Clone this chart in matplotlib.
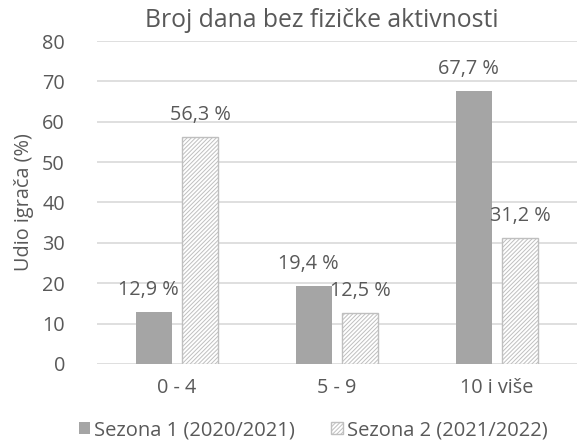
import numpy as np
import matplotlib
matplotlib.use('Agg')
from matplotlib import pyplot as plt

categories = ['0 - 4', '5 - 9', '10 i više']
sezona1 = [12.9, 19.4, 67.7]
sezona2 = [56.3, 12.5, 31.2]
labels1 = ['12,9 %', '19,4 %', '67,7 %']
labels2 = ['56,3 %', '12,5 %', '31,2 %']
series_names = ['Sezona 1 (2020/2021)', 'Sezona 2 (2021/2022)']
yticks = [0, 10, 20, 30, 40, 50, 60, 70, 80]

txt = '#595959'
plt.rcParams['font.family'] = ['Open Sans', 'DejaVu Sans']
plt.rcParams['hatch.color'] = '#BFBFBF'
plt.rcParams['hatch.linewidth'] = 0.7

fig = plt.figure(figsize=(5.77, 4.46), dpi=100)
ax = fig.add_axes([0.168, 0.184, 0.832, 0.724])

x = np.arange(len(categories))
w = 0.225
b1 = ax.bar(x - 0.145, sezona1, w, color='#A5A5A5', label=series_names[0])
b2 = ax.bar(x + 0.145, sezona2, w, color='white', edgecolor='#BFBFBF',
            hatch='////////', linewidth=1, label=series_names[1])

# oznake vrijednosti iznad stupaca
for xi, v, s in zip(x, sezona1, labels1):
    ax.text(xi - 0.18, v + 3, s, ha='center', va='bottom', fontsize=14.3, color=txt)
for xi, v, s in zip(x, sezona2, labels2):
    ax.text(xi + 0.145, v + 3, s, ha='center', va='bottom', fontsize=14.3, color=txt)

ax.set_xlim(-0.5, 2.5)
ax.set_ylim(0, 80)
ax.set_yticks(yticks)
ax.set_xticks(x)
ax.set_xticklabels(categories)
ax.tick_params(length=0, labelsize=14.3, labelcolor=txt, pad=10)
ax.tick_params(axis='y', pad=23)
ax.grid(axis='y', color='#D9D9D9', linewidth=1.2)
ax.set_axisbelow(True)
for sp in ax.spines.values():
    sp.set_visible(False)

ax.set_ylabel('Udio igrača (%)', fontsize=14.3, color=txt, labelpad=6)
fig.text(0.558, 0.955, 'Broj dana bez fizičke aktivnosti', ha='center', va='center',
         fontsize=17.8, color=txt)
fig.legend(handles=[b1, b2], loc='center', bbox_to_anchor=(0.543, 0.035), ncol=2,
           frameon=False, fontsize=14.5, labelcolor=txt, handlelength=0.55,
           handleheight=0.55, handletextpad=0.2, columnspacing=1.8)

plt.savefig('out.png', dpi=100)
